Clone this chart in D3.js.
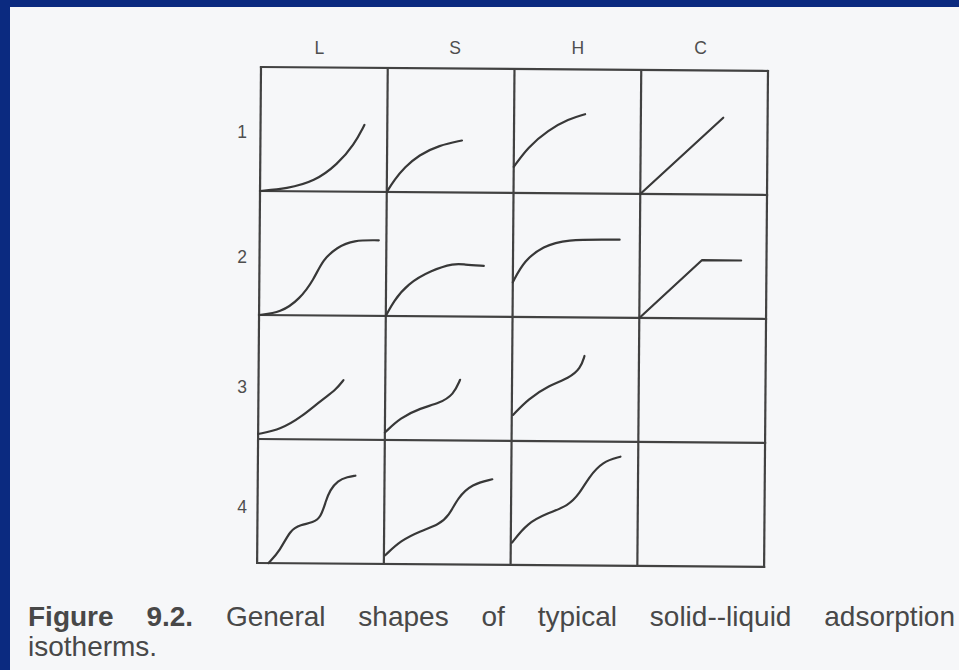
<!DOCTYPE html>
<html>
<head>
<meta charset="utf-8">
<script src="https://cdn.jsdelivr.net/npm/d3@7"></script>
<style>
  html, body { margin: 0; padding: 0; background: #0d2b7e; }
  svg { display: block; }
</style>
</head>
<body>
<svg id="fig" width="959" height="670"></svg>
<script>
// Column (isotherm class) and row (subgroup) labels
const columns = ["L", "S", "H", "C"];
const rows = ["1", "2", "3", "4"];

// Isotherm shapes: [x, y] as percent of the cell's width / height,
// measured from the cell's lower-left corner
const L1 = [[0, 0], [21, 2], [43, 8], [61, 22], [74, 38], [82, 54]];
const S1 = [[0, 0], [6, 10], [14, 20], [25, 30], [41, 38], [59, 42]];
const H1 = [[0, 21], [11, 37], [27, 51], [43, 60], [56, 64]];
const C1 = [[0, 0], [65, 62]];

const L2 = [[0, 0], [17, 2], [32, 13], [43, 29], [50, 45], [61, 55], [74, 61], [94, 61]];
const S2 = [[0, 0], [6, 12], [17, 26], [35, 37], [54, 43], [61, 42], [77, 41]];
const H2 = [[0, 28], [9, 46], [24, 57], [40, 63], [84, 63]];
const C2 = [[0, 0], [49, 47], [80, 47]];

const L3 = [[0, 4], [18, 8], [34, 18], [50, 32], [61, 40], [67, 48]];
const S3 = [[0, 6], [12, 18], [28, 26], [43, 30], [54, 37], [59, 49]];
const H3 = [[1, 21], [13, 34], [29, 45], [45, 51], [54, 59], [57, 69]];

const L4 = [[9, 0], [18, 10], [26, 27], [34, 31], [44, 33], [50, 37], [54, 51], [57, 59], [63, 67], [71, 70], [77, 71]];
const S4 = [[1, 7], [13, 19], [29, 27], [43, 32], [51, 39], [58, 54], [69, 65], [85, 69]];
const H4 = [[1, 18], [13, 34], [29, 42], [45, 48], [54, 58], [61, 71], [72, 84], [86, 88]];

// Straight-segment shapes (constant partition)
const linearShapes = ["C"];

const shapes = [
  { col: "L", row: "1", pts: L1 }, { col: "S", row: "1", pts: S1 },
  { col: "H", row: "1", pts: H1 }, { col: "C", row: "1", pts: C1 },
  { col: "L", row: "2", pts: L2 }, { col: "S", row: "2", pts: S2 },
  { col: "H", row: "2", pts: H2 }, { col: "C", row: "2", pts: C2 },
  { col: "L", row: "3", pts: L3 }, { col: "S", row: "3", pts: S3 },
  { col: "H", row: "3", pts: H3 },
  { col: "L", row: "4", pts: L4 }, { col: "S", row: "4", pts: S4 },
  { col: "H", row: "4", pts: H4 }
];

const svg = d3.select("#fig");
const W = 959, H = 670;

// Page: off-white sheet inside the blue slide frame (top and left edges)
svg.append("rect").attr("x", 0).attr("y", 0).attr("width", W).attr("height", H).attr("fill", "#0b2a80");
svg.append("rect").attr("x", 10).attr("y", 7).attr("width", W - 10).attr("height", H - 7).attr("fill", "#f6f7f9");

const font = "'Liberation Sans', Arial, Helvetica, sans-serif";

const x = d3.scaleBand().domain(columns).range([261, 768]);
const y = d3.scaleBand().domain(rows).range([67, 563]);

// The printed grid sits a little askew on the page
const grid = svg.append("g").attr("transform", "rotate(0.45, 261, 67)");

const ink = "#424242";
const xEdges = columns.map(c => x(c)).concat([x.range()[1]]);
const yEdges = rows.map(r => y(r)).concat([y.range()[1]]);

grid.selectAll("line.v").data(xEdges).join("line")
  .attr("class", "v")
  .attr("x1", d => d).attr("x2", d => d)
  .attr("y1", y.range()[0]).attr("y2", y.range()[1])
  .attr("stroke", ink).attr("stroke-width", 2.2).attr("stroke-linecap", "square");

grid.selectAll("line.h").data(yEdges).join("line")
  .attr("class", "h")
  .attr("y1", d => d).attr("y2", d => d)
  .attr("x1", x.range()[0]).attr("x2", x.range()[1])
  .attr("stroke", ink).attr("stroke-width", 2.2).attr("stroke-linecap", "square");

// One isotherm per cell, scaled into its own cell
shapes.forEach(s => {
  const cx = d3.scaleLinear().domain([0, 100]).range([x(s.col), x(s.col) + x.bandwidth()]);
  const cy = d3.scaleLinear().domain([0, 100]).range([y(s.row) + y.bandwidth(), y(s.row)]);
  const line = d3.line()
    .x(d => cx(d[0]))
    .y(d => cy(d[1]))
    .curve(linearShapes.includes(s.col) ? d3.curveLinear : d3.curveBasis);
  grid.append("path")
    .attr("d", line(s.pts))
    .attr("fill", "none")
    .attr("stroke", "#383838")
    .attr("stroke-width", 2.2)
    .attr("stroke-linecap", "round")
    .attr("stroke-linejoin", "round");
});

// Column labels above the grid (hand-set letters sit slightly off centre)
const colNudge = [-5, 4, 0, -4];
const topAxis = svg.append("g")
  .attr("transform", "translate(0, 54)")
  .call(d3.axisTop(x).tickSize(0).tickPadding(0));
topAxis.select(".domain").remove();
topAxis.selectAll("text")
  .attr("font-family", font).attr("font-size", 17.5).attr("fill", "#4e4e4e")
  .attr("dx", (d, i) => colNudge[i]);

// Row labels to the left of the grid
const rowNudge = [1, 2, 8, 4];
const leftAxis = svg.append("g")
  .attr("transform", "translate(247, 2)")
  .call(d3.axisLeft(y).tickSize(0).tickPadding(0));
leftAxis.select(".domain").remove();
leftAxis.selectAll("text")
  .attr("font-family", font).attr("font-size", 17.5).attr("fill", "#4e4e4e")
  .attr("transform", (d, i) => `translate(0, ${rowNudge[i]})`);

// Caption, justified across the page width
const capLeft = 28, capRight = 955, capSize = 28;
const cap1 = svg.append("text")
  .attr("x", capLeft).attr("y", 626)
  .attr("font-family", font).attr("font-size", capSize).attr("fill", "#484848");
cap1.append("tspan").attr("font-weight", "bold").text("Figure 9.2.");
cap1.append("tspan").text(" General shapes of typical solid--liquid adsorption");
const natural = cap1.node().getComputedTextLength();
const gaps = 7;
cap1.style("word-spacing", ((capRight - capLeft - natural) / gaps) + "px");

svg.append("text")
  .attr("x", capLeft).attr("y", 656)
  .attr("font-family", font).attr("font-size", capSize).attr("fill", "#484848")
  .text("isotherms.");
</script>
</body>
</html>
